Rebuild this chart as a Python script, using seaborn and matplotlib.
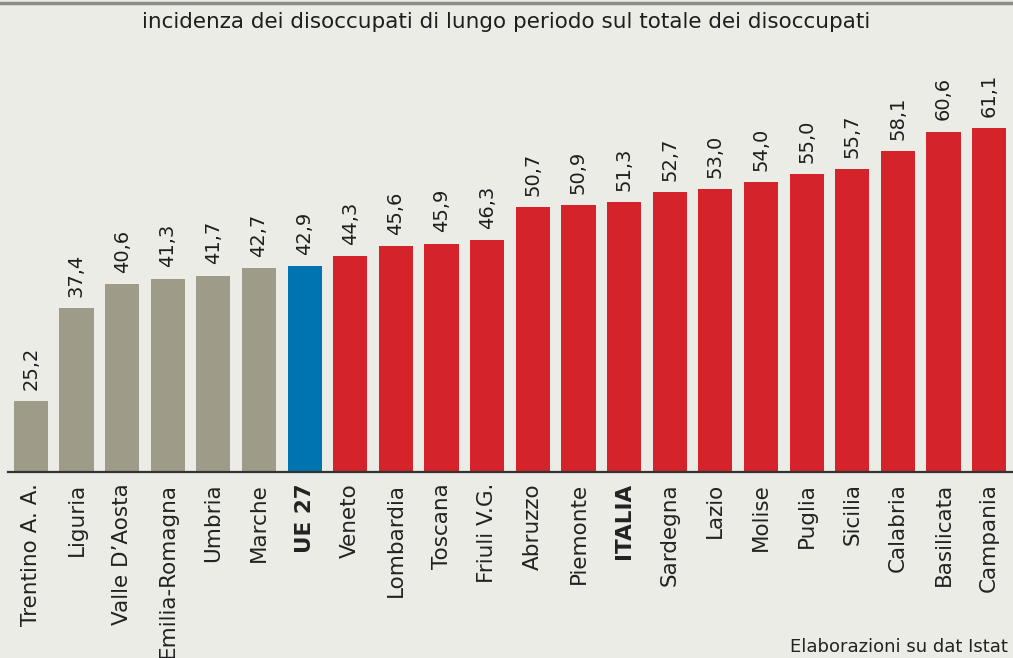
import matplotlib
matplotlib.use("Agg")
import matplotlib.pyplot as plt
import seaborn as sns
import pandas as pd

regions = ["Trentino A. A.", "Liguria", "Valle D\u2019Aosta", "Emilia-Romagna", "Umbria", "Marche",
           "UE 27", "Veneto", "Lombardia", "Toscana", "Friuli V.G.", "Abruzzo", "Piemonte",
           "ITALIA", "Sardegna", "Lazio", "Molise", "Puglia", "Sicilia", "Calabria",
           "Basilicata", "Campania"]
values = [25.2, 37.4, 40.6, 41.3, 41.7, 42.7, 42.9, 44.3, 45.6, 45.9, 46.3, 50.7, 50.9,
          51.3, 52.7, 53.0, 54.0, 55.0, 55.7, 58.1, 60.6, 61.1]
groups = ["nord"] * 6 + ["ue"] + ["other"] * 15
bold_labels = ["UE 27", "ITALIA"]

title = "incidenza dei disoccupati di lungo periodo sul totale dei disoccupati"
source = "Elaborazioni su dat Istat"

GRAY, BLUE, RED = "#9e9c88", "#0073b1", "#d4232b"
BG = "#ecece6"
color_map = {"nord": GRAY, "ue": BLUE, "other": RED}

df = pd.DataFrame({"regione": regions, "valore": values, "gruppo": groups})

sns.set_theme(style="white")
plt.rcParams["font.family"] = ["DejaVu Sans"]

W, H = 1013, 658
fig = plt.figure(figsize=(W / 100, H / 100), dpi=100, facecolor=BG)
ax = fig.add_axes([8 / W, (H - 472) / H, (1012 - 8) / W, (472 - 60) / H])
ax.set_facecolor(BG)

palette = [color_map[g] for g in groups]
sns.barplot(data=df, x="regione", y="valore", hue="regione", palette=palette,
            width=0.75, legend=False, ax=ax, saturation=1, linewidth=0, edgecolor="none")

ax.set_xlim(-0.5, len(regions) - 0.5)
ax.set_ylim(15.9, 70)
for s in ["top", "right", "left"]:
    ax.spines[s].set_visible(False)
ax.spines["bottom"].set_color("#333333")
ax.spines["bottom"].set_linewidth(1.6)
ax.set_yticks([])
ax.set_xlabel("")
ax.set_ylabel("")
ax.tick_params(axis="x", length=0, pad=8)
ax.set_xticks(range(len(regions)))
ax.set_xticklabels(regions, rotation=90, va="top", ha="center", fontsize=15.5, color="#222222")
for t in ax.get_xticklabels():
    if t.get_text() in bold_labels:
        t.set_fontweight("bold")

for cont in ax.containers:
    labs = [f"{v:.1f}".replace(".", ",") for v in cont.datavalues]
    ax.bar_label(cont, labels=labs, rotation=90, padding=8, fontsize=14, color="#1e1e1e")

fig.text(0.5, 1 - 22 / H, title, ha="center", va="center", fontsize=15.5, color="#1e1e1e")
fig.text(1008 / W, 1 - 647 / H, source, ha="right", va="center", fontsize=13, color="#222222")
fig.add_artist(plt.Line2D([0, 1], [1 - 3 / H, 1 - 3 / H], color="#8c8c88", linewidth=2.5,
                          transform=fig.transFigure))

fig.savefig("out.png", dpi=100, facecolor=BG)
